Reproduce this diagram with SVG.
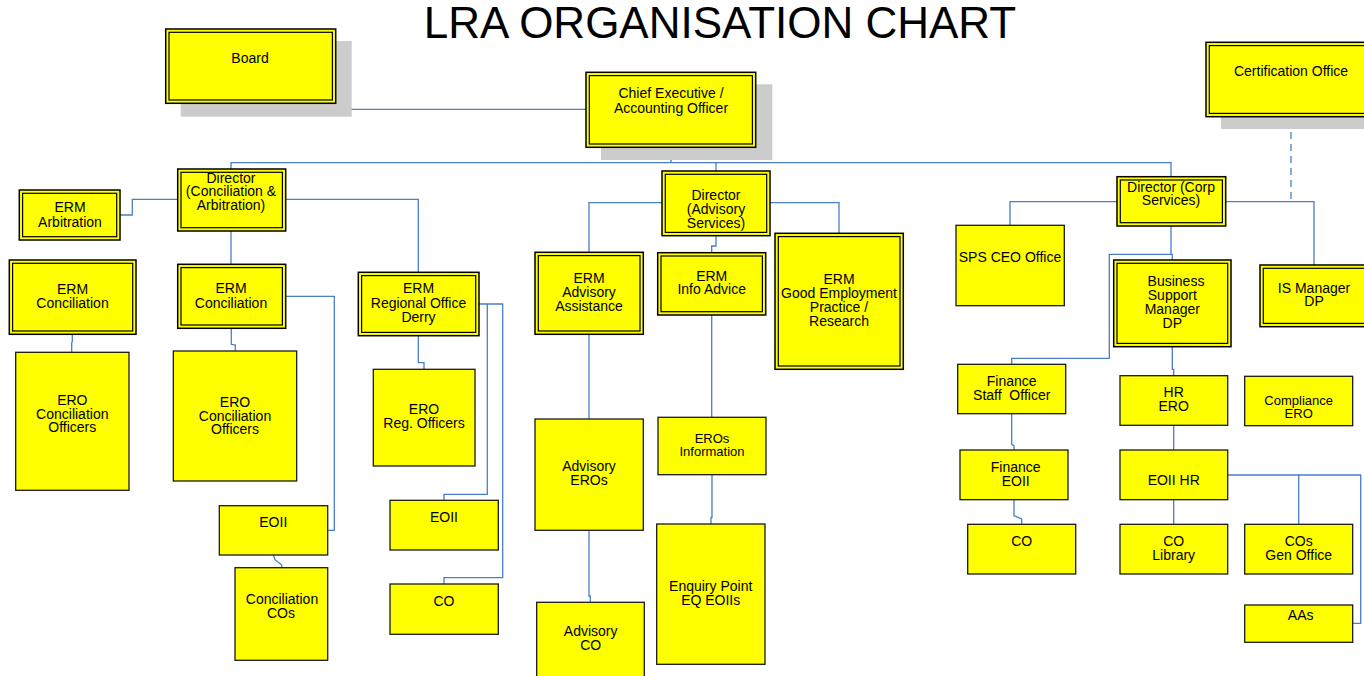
<svg xmlns="http://www.w3.org/2000/svg" width="1364" height="676" viewBox="0 0 1364 676">
<style>
.o{fill:#FFFF00;stroke:#000;stroke-width:1.5}
.i{fill:none;stroke:#000;stroke-width:1.2}
.s{fill:#FFFF00;stroke:#1a1a1a;stroke-width:1.3}
.sh{fill:#CCCCCC}
.t{font-family:"Liberation Sans",Arial,sans-serif;font-size:14px;text-anchor:middle;fill:#000}
.sm{font-size:13px}
.c{fill:none;stroke:#4A7EC7;stroke-width:1.3}
.d{fill:none;stroke:#4A7EC7;stroke-width:1.3;stroke-dasharray:7 5}
</style>
<rect width="1364" height="676" fill="#fff"/>
<text x="720" y="37.5" style="font-family:'Liberation Sans',Arial,sans-serif;font-size:44px;text-anchor:middle;fill:#000">LRA ORGANISATION CHART</text>

<g id="connectors">
<path class="c" d="M336,66.7 H342.7 V109.3 H586"/>
<path class="c" d="M671,147.3 V162.7"/>
<path class="c" d="M231,169 V162.7 H1171 V176.7"/>
<path class="c" d="M716,162.7 V171"/>
<path class="c" d="M178,199.3 H132.3 V215 H120"/>
<path class="c" d="M286,199.3 H418.3 V272.3"/>
<path class="c" d="M231,231 V264.3"/>
<path class="c" d="M72.3,334.3 V341.7 L71.7,342.7 V352.3"/>
<path class="c" d="M231.3,328.3 V344.3 L235.3,345 V351"/>
<path class="c" d="M286,296.3 H334.3 V530.3 H327.7"/>
<path class="c" d="M273.3,555 L275,559.7 L281.7,565 V567.7"/>
<path class="c" d="M418.3,335.7 V362.7 H424 V369.3"/>
<path class="c" d="M479,304 H487.3 V494.3 H444 V500.3"/>
<path class="c" d="M487.3,304 H502.7 V577.7 H444 V584"/>
<path class="c" d="M662,202.7 H589 V252.3"/>
<path class="c" d="M770,202.7 H839 V233.3"/>
<path class="c" d="M716,235.7 V246 H711.7 V252.7"/>
<path class="c" d="M589,334.3 V419"/>
<path class="c" d="M589,530.3 V596 H590.3 V602.3"/>
<path class="c" d="M711.7,315 V417.3"/>
<path class="c" d="M712,474.7 V517.3 H711 V524"/>
<path class="c" d="M1117,201.7 H1010 V225.3"/>
<path class="c" d="M1225.7,201.7 H1314 V265"/>
<path class="d" d="M1291,120 V201.7"/>
<path class="c" d="M1171,226 V254.3 H1172.3 V260"/>
<path class="c" d="M1171,254.3 H1109.3 V358.3 H1011.7 V364.3"/>
<path class="c" d="M1172.3,346.7 V369.3 H1173.7 V375.7"/>
<path class="c" d="M1173.7,425.3 V450"/>
<path class="c" d="M1011.7,413.7 V444.3 L1014,445.7 V450"/>
<path class="c" d="M1014,499.7 V515.7 L1021.7,519 V524.3"/>
<path class="c" d="M1173.7,499.7 V524.3"/>
<path class="c" d="M1227.7,475 H1298.7 V524.3"/>
<path class="c" d="M1298.7,475 H1360.7 V623.3 H1352.7"/>
</g>

<g id="board">
<rect class="sh" x="180.7" y="41" width="171" height="75.7"/>
<rect class="o" x="165.7" y="29" width="170" height="74.3"/>
<rect class="i" x="169" y="32.3" width="163.4" height="67.7"/>
<text class="t" x="250" y="63.3">Board</text>
</g>
<g id="ce">
<rect class="sh" x="601" y="84.3" width="171.3" height="75.7"/>
<rect class="o" x="586" y="72.3" width="169.7" height="75"/>
<rect class="i" x="589.3" y="75.6" width="163.1" height="68.4"/>
<text class="t" x="671" y="97.7">Chief Executive /</text>
<text class="t" x="671" y="113.3">Accounting Officer</text>
</g>
<g id="cert">
<rect class="sh" x="1221" y="54" width="200" height="75"/>
<rect class="o" x="1206" y="42.3" width="200" height="74.4"/>
<rect class="i" x="1209.3" y="45.6" width="193.4" height="67.8"/>
<text class="t" x="1291" y="76">Certification Office</text>
</g>

<g id="dir_ca">
<rect class="o" x="177.7" y="169" width="108" height="62"/>
<rect class="i" x="181" y="172.3" width="101.4" height="55.4"/>
<text class="t" x="231" y="182.7">Director</text>
<text class="t" x="231" y="196.3">(Conciliation &amp;</text>
<text class="t" x="231" y="210">Arbitration)</text>
</g>
<g id="erm_arb">
<rect class="o" x="19.3" y="190" width="100.7" height="50"/>
<rect class="i" x="22.6" y="193.3" width="94.1" height="43.4"/>
<text class="t" x="70" y="212.3">ERM</text>
<text class="t" x="70" y="226.7">Arbitration</text>
</g>
<g id="erm_con_l">
<rect class="o" x="9.3" y="260" width="126.7" height="74.3"/>
<rect class="i" x="12.6" y="263.3" width="120.1" height="67.7"/>
<text class="t" x="72.5" y="294">ERM</text>
<text class="t" x="72.5" y="308.3">Conciliation</text>
</g>
<g id="erm_con_m">
<rect class="o" x="177.7" y="264.3" width="108" height="64"/>
<rect class="i" x="181" y="267.6" width="101.4" height="57.4"/>
<text class="t" x="231" y="293.3">ERM</text>
<text class="t" x="231" y="307.7">Conciliation</text>
</g>
<g id="erm_reg">
<rect class="o" x="358.3" y="272.3" width="120.7" height="63.4"/>
<rect class="i" x="361.6" y="275.6" width="114.1" height="56.8"/>
<text class="t" x="418.5" y="293.3">ERM</text>
<text class="t" x="418.5" y="307.7">Regional Office</text>
<text class="t" x="418.5" y="321.7">Derry</text>
</g>
<g id="dir_as">
<rect class="o" x="662" y="171" width="108" height="64.7"/>
<rect class="i" x="665.3" y="174.3" width="101.4" height="58.1"/>
<text class="t" x="716" y="200">Director</text>
<text class="t" x="716" y="214">(Advisory</text>
<text class="t" x="716" y="227.7">Services)</text>
</g>
<g id="erm_aa">
<rect class="o" x="535" y="252.3" width="108.3" height="82"/>
<rect class="i" x="538.3" y="255.6" width="101.7" height="75.4"/>
<text class="t" x="589" y="283.3">ERM</text>
<text class="t" x="589" y="297.3">Advisory</text>
<text class="t" x="589" y="311">Assistance</text>
</g>
<g id="erm_info">
<rect class="o" x="657.7" y="252.7" width="108" height="62.3"/>
<rect class="i" x="661" y="256" width="101.4" height="55.7"/>
<text class="t" x="711.7" y="280.7">ERM</text>
<text class="t" x="711.7" y="294.3">Info Advice</text>
</g>
<g id="erm_gep">
<rect class="o" x="775" y="233.3" width="128.3" height="136"/>
<rect class="i" x="778.3" y="236.6" width="121.7" height="129.4"/>
<text class="t" x="839" y="284">ERM</text>
<text class="t" x="839" y="298">Good Employment</text>
<text class="t" x="839" y="312">Practice /</text>
<text class="t" x="839" y="326">Research</text>
</g>
<g id="dir_corp">
<rect class="o" x="1117" y="176.7" width="108.7" height="49.3"/>
<rect class="i" x="1120.3" y="180" width="102.1" height="42.7"/>
<text class="t" x="1171" y="191.7">Director (Corp</text>
<text class="t" x="1171" y="205.3">Services)</text>
</g>
<g id="bsm">
<rect class="o" x="1113.7" y="260" width="117.3" height="86.7"/>
<rect class="i" x="1117" y="263.3" width="110.7" height="80.1"/>
<text class="t" x="1176" y="286">Business</text>
<text class="t" x="1172.3" y="300">Support</text>
<text class="t" x="1172.3" y="314">Manager</text>
<text class="t" x="1172.3" y="327.7">DP</text>
</g>
<g id="is_mgr">
<rect class="o" x="1260" y="265" width="120" height="61.7"/>
<rect class="i" x="1263.3" y="268.3" width="113.4" height="55.1"/>
<text class="t" x="1314" y="292.7">IS Manager</text>
<text class="t" x="1314" y="306">DP</text>
</g>

<g id="sps">
<rect class="s" x="956" y="225.3" width="108.3" height="80.4"/>
<text class="t" x="1010" y="262.3">SPS CEO Office</text>
</g>
<g id="ero_l">
<rect class="s" x="15.7" y="352.3" width="113.3" height="138"/>
<text class="t" x="72.3" y="404.7">ERO</text>
<text class="t" x="72.3" y="418.7">Conciliation</text>
<text class="t" x="72.3" y="432.3">Officers</text>
</g>
<g id="ero_m">
<rect class="s" x="173.3" y="351" width="123.4" height="130"/>
<text class="t" x="235" y="406.7">ERO</text>
<text class="t" x="235" y="420.7">Conciliation</text>
<text class="t" x="235" y="434.3">Officers</text>
</g>
<g id="ero_reg">
<rect class="s" x="373.3" y="369.3" width="101.7" height="96.7"/>
<text class="t" x="424" y="414.3">ERO</text>
<text class="t" x="424" y="428.3">Reg. Officers</text>
</g>
<g id="eoii_m">
<rect class="s" x="219.3" y="505.7" width="108.4" height="49.3"/>
<text class="t" x="273.3" y="527.3">EOII</text>
</g>
<g id="con_cos">
<rect class="s" x="235" y="567.7" width="92.7" height="92.6"/>
<text class="t" x="282" y="604.3">Conciliation</text>
<text class="t" x="281" y="618.3">COs</text>
</g>
<g id="eoii_r">
<rect class="s" x="390" y="500.3" width="108.3" height="49.7"/>
<text class="t" x="444" y="522.3">EOII</text>
</g>
<g id="co_r">
<rect class="s" x="390" y="584" width="108.3" height="50.3"/>
<text class="t" x="444" y="606.3">CO</text>
</g>
<g id="adv_eros">
<rect class="s" x="535" y="419" width="108.3" height="111.3"/>
<text class="t" x="589" y="471">Advisory</text>
<text class="t" x="589" y="485">EROs</text>
</g>
<g id="adv_co">
<rect class="s" x="536.7" y="602.3" width="107.6" height="80"/>
<text class="t" x="590.7" y="636.3">Advisory</text>
<text class="t" x="590.7" y="650">CO</text>
</g>
<g id="eros_info">
<rect class="s" x="658" y="417.3" width="108" height="57.4"/>
<text class="t sm" x="712" y="443.3">EROs</text>
<text class="t sm" x="712" y="456.3">Information</text>
</g>
<g id="enquiry">
<rect class="s" x="656.7" y="524" width="108.3" height="140.3"/>
<text class="t" x="710.7" y="591.3">Enquiry Point</text>
<text class="t" x="710.7" y="605">EQ EOIIs</text>
</g>
<g id="fso">
<rect class="s" x="957.7" y="364.3" width="108" height="49.4"/>
<text class="t" x="1011.7" y="386">Finance</text>
<text class="t" x="1011.7" y="400">Staff&#160; Officer</text>
</g>
<g id="fin_eoii">
<rect class="s" x="960" y="450" width="108" height="49.7"/>
<text class="t" x="1015.7" y="472.3">Finance</text>
<text class="t" x="1015.7" y="486">EOII</text>
</g>
<g id="fin_co">
<rect class="s" x="967.7" y="524.3" width="108" height="49.7"/>
<text class="t" x="1021.7" y="546">CO</text>
</g>
<g id="hr_ero">
<rect class="s" x="1120" y="375.7" width="107.7" height="49.6"/>
<text class="t" x="1173.7" y="397">HR</text>
<text class="t" x="1173.7" y="411.3">ERO</text>
</g>
<g id="compliance">
<rect class="s" x="1244.7" y="376.3" width="108" height="49.4"/>
<text class="t sm" x="1298.7" y="405.3">Compliance</text>
<text class="t sm" x="1298.7" y="418.3">ERO</text>
</g>
<g id="eoii_hr">
<rect class="s" x="1120" y="450" width="107.7" height="49.7"/>
<text class="t" x="1173.7" y="485">EOII HR</text>
</g>
<g id="co_lib">
<rect class="s" x="1120" y="524.3" width="107.7" height="49.7"/>
<text class="t" x="1173.7" y="546">CO</text>
<text class="t" x="1173.7" y="560">Library</text>
</g>
<g id="cos_gen">
<rect class="s" x="1244.7" y="524.3" width="108" height="49.7"/>
<text class="t" x="1298.7" y="546">COs</text>
<text class="t" x="1298.7" y="560">Gen Office</text>
</g>
<g id="aas">
<rect class="s" x="1244.7" y="605" width="108" height="37.3"/>
<text class="t" x="1300.7" y="620">AAs</text>
</g>
</svg>
